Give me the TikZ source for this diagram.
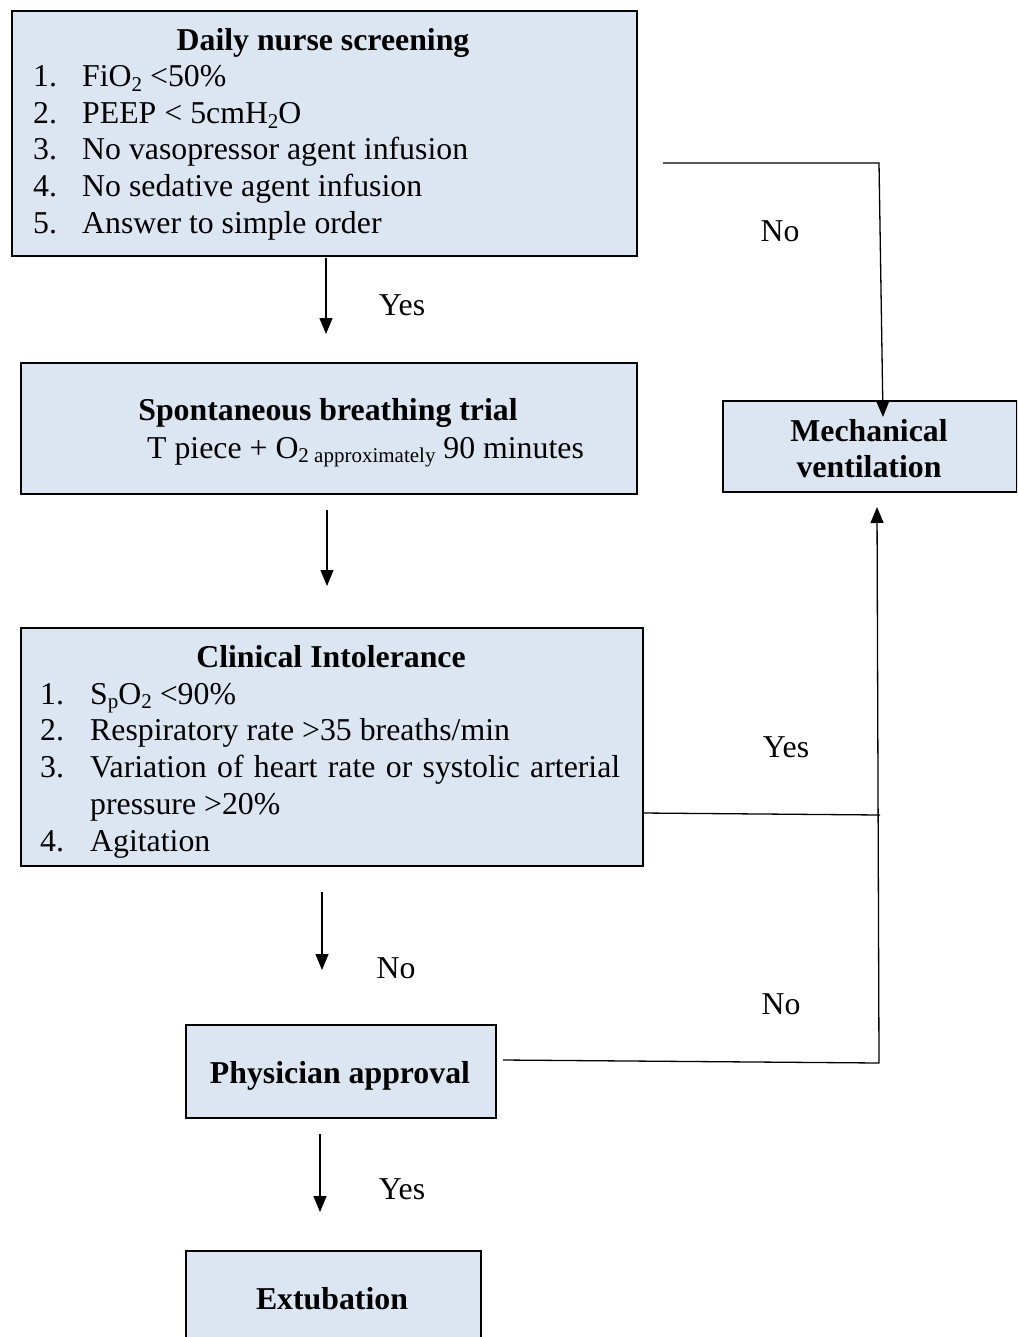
\documentclass[tikz,border=0pt]{standalone}
\usepackage{fontspec}
\setmainfont{Liberation Serif}
\usetikzlibrary{arrows.meta,calc}
\definecolor{boxfill}{HTML}{DCE6F2}
\newcommand{\sbs}[1]{\raisebox{-0.28ex}{\fontsize{21}{21}\selectfont #1}}
\begin{document}
\begin{tikzpicture}[x=1pt,y=-1pt,
  box/.style={draw=black, line width=2.2pt, fill=boxfill, inner sep=0pt, anchor=north west},
  txt/.style={font=\fontsize{31.8}{37}\selectfont, inner sep=0pt, anchor=base west},
  ttl/.style={font=\fontsize{31.8}{37}\selectfont\bfseries, inner sep=0pt, anchor=base},
  lab/.style={font=\fontsize{31.8}{37}\selectfont, inner sep=0pt, anchor=base},
  conn/.style={line width=1.3pt},
  arr/.style={conn, -{Triangle[length=16pt,width=13pt]}}]
\useasboundingbox (0,0) rectangle (1017,1337);
\clip (0,0) rectangle (1017,1337);

% boxes
\node[box, minimum width=625pt, minimum height=245pt] (screen) at (11,10) {};
\node[box, minimum width=616pt, minimum height=131pt] (sbt) at (20,362) {};
\node[box, minimum width=294pt, minimum height=91pt] (mv) at (722,400) {};
\node[box, minimum width=622pt, minimum height=238pt] (ci) at (20,627) {};
\node[box, minimum width=310pt, minimum height=93pt] (pa) at (185,1024) {};
\node[box, minimum width=295pt, minimum height=120pt] (ex) at (185,1250) {};

% box 1 text
\node[ttl] (t1) at (323,51) {Daily nurse screening};
\node[txt] (n11) at (33,87) {1.};  \node[txt] (l11) at (82,87) {FiO\sbs{2} <50\%};
\node[txt] (n12) at (33,124) {2.}; \node[txt] (l12) at (82,124) {PEEP < 5cmH\sbs{2}O};
\node[txt] (n13) at (33,160) {3.}; \node[txt] (l13) at (82,160) {No vasopressor agent infusion};
\node[txt] (n14) at (33,197) {4.}; \node[txt] (l14) at (82,197) {No sedative agent infusion};
\node[txt] (n15) at (33,234) {5.}; \node[txt] (l15) at (82,234) {Answer to simple order};

% box 2 text
\node[ttl] (t2) at (328,420) {Spontaneous breathing trial};
\node[txt] (l21) at (147,458) {T piece + O\sbs{2 approximately} 90 minutes};

% mechanical ventilation
\node[ttl] (t3a) at (869,441) {Mechanical};
\node[ttl] (t3b) at (869,477) {ventilation};

% box 3 text
\node[ttl] (t4) at (331,667) {Clinical Intolerance};
\node[txt] (n41) at (40,704) {1.}; \node[txt] (l41) at (90,704) {S\sbs{p}O\sbs{2} <90\%};
\node[txt] (n42) at (40,740) {2.}; \node[txt] (l42) at (90,740) {Respiratory rate >35 breaths/min};
\node[txt] (n43) at (40,777) {3.}; \node[txt] (l43) at (90,777) {\makebox[530pt][s]{Variation of heart rate or systolic arterial}};
\node[txt] (l43b) at (90,814) {pressure >20\%};
\node[txt] (n44) at (40,851) {4.}; \node[txt] (l44) at (90,851) {Agitation};

% physician / extubation
\node[ttl] (t5) at (340,1083) {Physician approval};
\node[ttl] (t6) at (332,1309) {Extubation};

% labels
\node[lab] (yes1) at (402,315) {Yes};
\node[lab] (no1) at (780,242) {No};
\node[lab] (yes2) at (786,757) {Yes};
\node[lab] (no2) at (396,978) {No};
\node[lab] (no3) at (781,1014) {No};
\node[lab] (yes3) at (402,1199) {Yes};

% connector coordinates
\coordinate (a1s) at (326,258); \coordinate (a1e) at (326,334);
\coordinate (a2s) at (327,510); \coordinate (a2e) at (327,586);
\coordinate (a3s) at (322,892); \coordinate (a3e) at (322,970);
\coordinate (a4s) at (320,1134); \coordinate (a4e) at (320,1212);
\coordinate (n1s) at (663,163); \coordinate (n1c) at (879,163); \coordinate (n1e) at (883,417);
\coordinate (ycs) at (642,813); \coordinate (yce) at (880,815);
\coordinate (pas) at (503,1060); \coordinate (pac) at (879,1063); \coordinate (pae) at (877,507);

\draw[arr] (a1s) -- (a1e);
\draw[arr] (a2s) -- (a2e);
\draw[arr] (a3s) -- (a3e);
\draw[arr] (a4s) -- (a4e);
\draw[arr] (n1s) -- (n1c) -- (n1e);
\draw[conn] (ycs) -- (yce);
\draw[arr] (pas) -- (pac) -- (pae);
\end{tikzpicture}
\end{document}
